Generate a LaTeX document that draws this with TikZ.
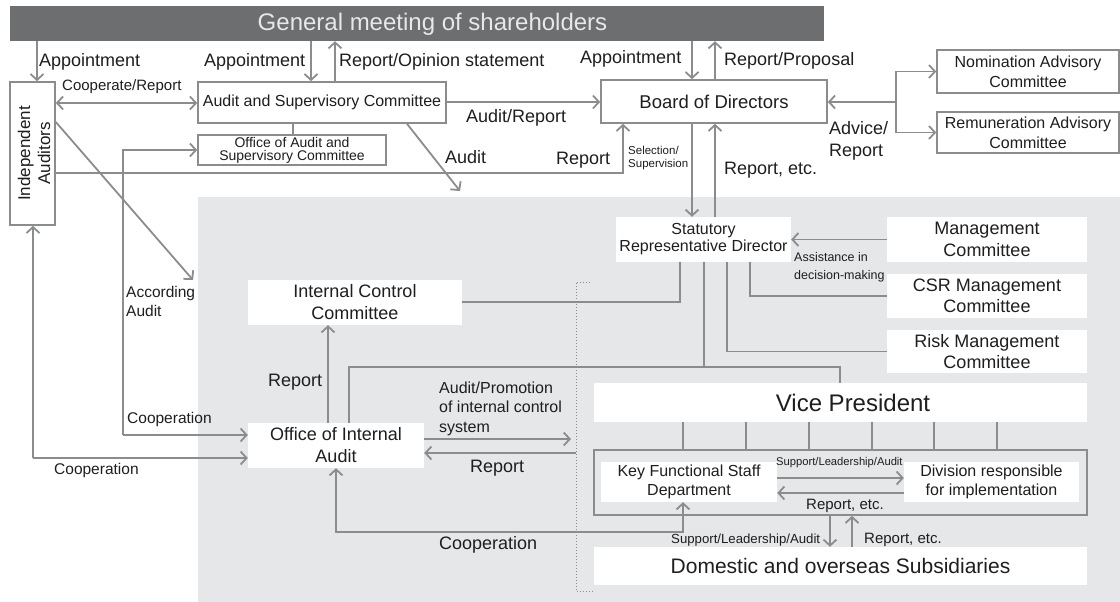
\documentclass[tikz,border=0pt]{standalone}
\usepackage{fontspec}
\setmainfont{Liberation Sans}
\usetikzlibrary{arrows.meta}
\definecolor{lg}{RGB}{138,140,142}
\definecolor{barc}{RGB}{109,110,112}
\definecolor{bgc}{RGB}{230,231,232}
\definecolor{ttl}{RGB}{232,232,232}
\definecolor{txt}{RGB}{30,30,30}
\newcommand\fsz[2]{\fontsize{#1}{#2}\selectfont}
\begin{document}
\begin{tikzpicture}[x=1pt,y=-1pt,
  ln/.style={draw=lg, line width=1.8pt},
  arr/.style={ln, -{Straight Barb[length=6pt,width=13pt,line width=1.8pt]}},
  darr/.style={ln, {Straight Barb[length=6pt,width=13pt,line width=1.8pt]}-{Straight Barb[length=6pt,width=13pt,line width=1.8pt]}},
  box/.style={draw=lg, line width=1.6pt, fill=white, inner sep=0pt, align=center, text=txt},
  wbox/.style={fill=white, inner sep=0pt, align=center, text=txt},
  lbl/.style={anchor=west, inner sep=0pt, text=txt, align=left},
  dots/.style={draw=lg, line width=1pt, dotted}
]
\useasboundingbox (0,0) rectangle (1120,602);
% background area
\fill[bgc] (198,197) rectangle (1120,602);
% top bar
\node[fill=barc, minimum width=814, minimum height=35, inner sep=0pt] (gm) at (417,23.5) {};
\node[text=ttl, inner sep=0pt, font=\fsz{24}{28}] (gmt) at (432.5,24) {General meeting of shareholders};
% boxes
\node[box, minimum width=45, minimum height=143] (ia) at (32.5,153.5) {};
\node[rotate=90, align=center, text=txt, inner sep=0pt, font=\fsz{17}{20}] (iat) at (34,153.5) {Independent\\Auditors};
\node[box, minimum width=248, minimum height=41, font=\fsz{16}{19}] (asc) at (322,102.5) {Audit and Supervisory Committee};
\node[box, minimum width=188, minimum height=30, font=\fsz{14}{13}] (oasc) at (292,150) {Office of Audit and\\Supervisory Committee};
\node[box, minimum width=226, minimum height=43, font=\fsz{18.5}{22}] (board) at (714,101.5) {Board of Directors};
\node[box, minimum width=182, minimum height=43, font=\fsz{16}{20}] (nom) at (1028,71.5) {Nomination Advisory\\Committee};
\node[box, minimum width=182, minimum height=41, font=\fsz{16}{20}] (rem) at (1028,132.5) {Remuneration Advisory\\Committee};
\node[wbox, minimum width=175, minimum height=45, font=\fsz{16}{17}] (srd) at (703.5,239.5) {Statutory\\Representative Director};
\node[wbox, minimum width=200, minimum height=45, font=\fsz{18}{22}] (mgmt) at (987,239.5) {Management\\Committee};
\node[wbox, minimum width=200, minimum height=44, font=\fsz{18}{21.5}] (csr) at (987,296) {CSR Management\\Committee};
\node[wbox, minimum width=200, minimum height=43, font=\fsz{18}{21.5}] (risk) at (987,351.5) {Risk Management\\Committee};
\node[wbox, minimum width=214, minimum height=45, font=\fsz{18}{22}] (icc) at (355,302.5) {Internal Control\\Committee};
\node[wbox, minimum width=176, minimum height=45, font=\fsz{18}{22}] (oia) at (336,445.5) {Office of Internal\\Audit};
\node[wbox, minimum width=493, minimum height=39] (vp) at (840.5,402.5) {};
\node[text=txt, inner sep=0pt, font=\fsz{24}{28}] (vpt) at (853,402.5) {Vice President};
\node[draw=lg, line width=1.6pt, minimum width=493, minimum height=65, inner sep=0pt] (grp) at (840.5,482.5) {};
\node[wbox, minimum width=176, minimum height=40, font=\fsz{16}{19}] (kfsd) at (689,482) {Key Functional Staff\\Department};
\node[wbox, minimum width=175, minimum height=40, font=\fsz{16}{19}] (dri) at (991.5,482) {Division responsible\\for implementation};
\node[wbox, minimum width=493, minimum height=38, font=\fsz{21}{25}] (dom) at (840.5,566) {Domestic and overseas Subsidiaries};
% dotted bracket
\draw[dots] (590,282) -- (576,282) -- (576,591) -- (594,591);
% coordinates
\coordinate (auditend) at (460,191);
\coordinate (accend) at (193,280);
\coordinate (advj) at (896,102);
\coordinate (c1) at (123,435);
\coordinate (c2) at (33,458);
\coordinate (vpj) at (704,367);
% connectors top
\draw[arr] (37,0 |- gm.south) -- (37,0 |- ia.north);
\draw[arr] (311,0 |- gm.south) -- (311,0 |- asc.north);
\draw[arr] (335,0 |- asc.north) -- (335,0 |- gm.south);
\draw[arr] (692,0 |- gm.south) -- (692,0 |- board.north);
\draw[arr] (715,0 |- board.north) -- (715,0 |- gm.south);
\draw[darr] (ia.east |- 0,103) -- (asc.west |- 0,103);
\draw[ln] (293,0 |- asc.south) -- (293,0 |- oasc.north);
\draw[arr] (asc.east |- 0,102) -- (board.west |- 0,102);
\draw[arr] (407,0 |- asc.south) -- (auditend);
\draw[arr] (ia.east |- 0,122) -- (accend);
\draw[arr] (ia.east |- 0,173) -- (623,173) -- (623,0 |- board.south);
\draw[arr] (692,0 |- board.south) -- (692,0 |- srd.north);
\draw[arr] (715,0 |- srd.north) -- (715,0 |- board.south);
\draw[arr] (advj) -- (board.east |- advj);
\draw[ln] (advj |- nom.west) -- (advj |- rem.west);
\draw[arr] (advj |- nom.west) -- (nom.west);
\draw[arr] (advj |- rem.west) -- (rem.west);
% management area
\draw[arr] (mgmt.west) -- (srd.east);
\draw[ln] (csr.west) -- (750,0 |- csr.west) -- (750,0 |- srd.south);
\draw[ln] (risk.west) -- (727,0 |- risk.west) -- (727,0 |- srd.south);
\draw[ln] (vpj |- srd.south) -- (vpj);
\draw[ln] (349,0 |- oia.north) -- (349,0 |- vpj) -- (840,0 |- vpj) -- (840,0 |- vp.north);
\draw[ln] (680,0 |- srd.south) -- (680,302) -- (icc.east |- 0,302);
% internal audit
\draw[arr] (328,0 |- oia.north) -- (328,0 |- icc.south);
\draw[arr] (oia.east |- 0,439) -- (571,439);
\draw[arr] (576,453) -- (oia.east |- 0,453);
\draw[arr] (c1) -- (c1 |- oasc.west) -- (oasc.west);
\draw[arr] (c1) -- (oia.west |- c1);
\draw[arr] (c2) -- (c2 |- ia.south);
\draw[arr] (c2) -- (oia.west |- c2);
\draw[darr] (336,0 |- oia.south) -- (336,532) -- (683,532) -- (683,0 |- kfsd.south);
% vice president ticks
\foreach \xx in {683,746,809,872,934,997} \draw[ln] (\xx,0 |- vp.south) -- (\xx,0 |- grp.north);
\draw[arr] (kfsd.east |- 0,478) -- (dri.west |- 0,478);
\draw[arr] (dri.west |- 0,493) -- (kfsd.east |- 0,493);
\draw[arr] (830,0 |- grp.south) -- (830,0 |- dom.north);
\draw[arr] (852,0 |- dom.north) -- (852,0 |- grp.south);
% labels
\node[lbl, font=\fsz{18}{21}] (l1) at (39,62) {Appointment};
\node[lbl, font=\fsz{18}{21}] (l2) at (204,62) {Appointment};
\node[lbl, font=\fsz{18}{21}] (l3) at (339,62) {Report/Opinion statement};
\node[lbl, font=\fsz{18}{21}] (l4) at (580,59) {Appointment};
\node[lbl, font=\fsz{18}{21}] (l5) at (724,61) {Report/Proposal};
\node[lbl, font=\fsz{15}{18}] (l6) at (62,87) {Cooperate/Report};
\node[lbl, font=\fsz{18}{21}] (l7) at (466,118) {Audit/Report};
\node[lbl, font=\fsz{18}{21}] (l8) at (445,157) {Audit};
\node[lbl, font=\fsz{18}{21}] (l9) at (556,160) {Report};
\node[lbl, font=\fsz{11.5}{13}] (l10) at (628,158.5) {Selection/\\Supervision};
\node[lbl, font=\fsz{18}{21}] (l11) at (724,170) {Report, etc.};
\node[lbl, font=\fsz{18}{22}] (l12) at (829,141) {Advice/\\Report};
\node[lbl, font=\fsz{15.5}{19}] (l13) at (126,301.5) {According\\Audit};
\node[lbl, font=\fsz{15.5}{18}] (l14) at (127,419) {Cooperation};
\node[lbl, font=\fsz{15.5}{18}] (l15) at (54,470) {Cooperation};
\node[lbl, font=\fsz{12.5}{18}] (l16) at (794,267) {Assistance in\\decision-making};
\node[lbl, font=\fsz{18}{21}] (l17) at (268,382) {Report};
\node[lbl, font=\fsz{16}{19.5}] (l18) at (439,408.5) {Audit/Promotion\\of internal control\\system};
\node[lbl, font=\fsz{18}{21}] (l19) at (470,468) {Report};
\node[lbl, font=\fsz{18}{21}] (l20) at (439,545) {Cooperation};
\node[lbl, font=\fsz{11.2}{13}] (l21) at (776,463) {Support/Leadership/Audit};
\node[lbl, font=\fsz{15}{18}] (l22) at (806,506) {Report, etc.};
\node[lbl, font=\fsz{13.2}{16}] (l23) at (671,540) {Support/Leadership/Audit};
\node[lbl, font=\fsz{15}{18}] (l24) at (864,540) {Report, etc.};
\end{tikzpicture}
\end{document}
